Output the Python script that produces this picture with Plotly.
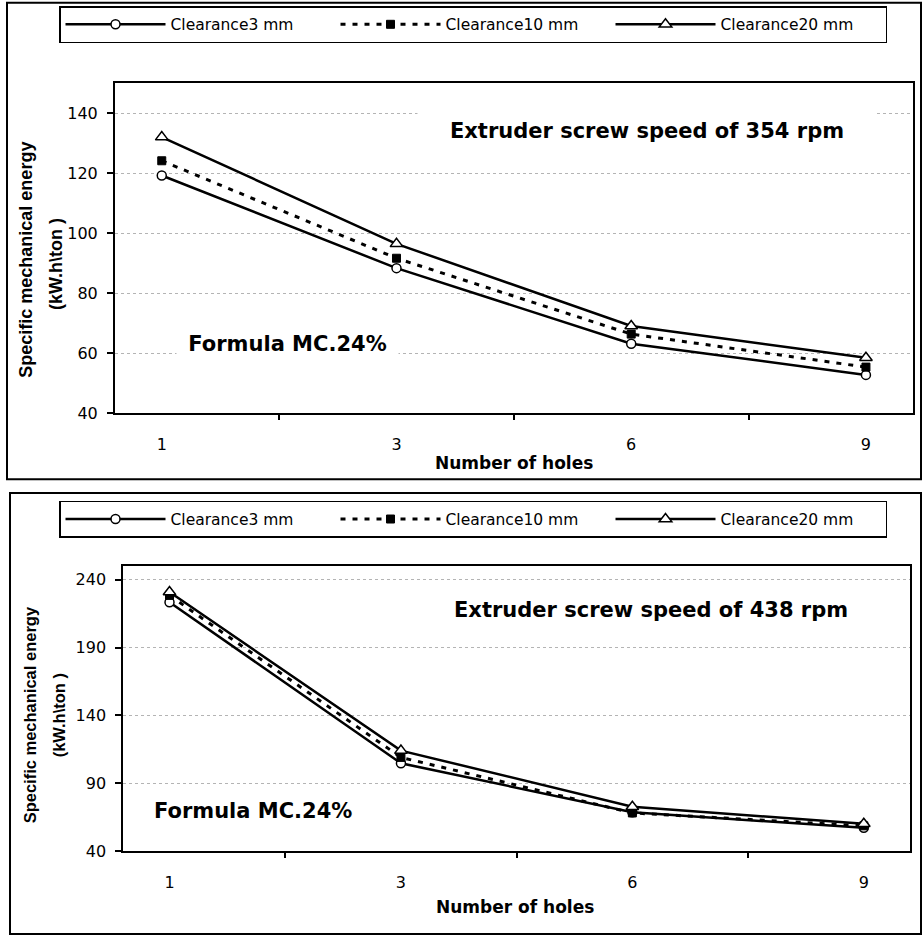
import plotly.graph_objects as go

# ---------------- data ----------------
holes = ["1", "3", "6", "9"]
series_names = ["Clearance3 mm", "Clearance10 mm", "Clearance20 mm"]

# Extruder screw speed 354 rpm
sme_354_c3 = [119.3, 88.4, 63.2, 52.8]
sme_354_c10 = [124.2, 91.7, 66.4, 55.4]
sme_354_c20 = [132.1, 96.5, 69.1, 58.5]

# Extruder screw speed 438 rpm
sme_438_c3 = [223.5, 104.7, 68.5, 57.0]
sme_438_c10 = [228.5, 109.0, 68.0, 58.5]
sme_438_c20 = [231.0, 114.0, 72.6, 60.0]

y_ticks_top = [40, 60, 80, 100, 120, 140]
y_ticks_bottom = [40, 90, 140, 190, 240]

# ---------------- layout helpers ----------------
W, H = 923, 946
def px(x):
    return x / W
def py(y):
    return 1 - y / H

FONT = "DejaVu Sans"
ARIAL = "Liberation Sans"

styles = [
    dict(line=dict(color="black", width=2.5),
         marker=dict(symbol="circle", size=9, color="white", line=dict(color="black", width=1.5))),
    dict(line=dict(color="black", width=3, dash="5px,7px"),
         marker=dict(symbol="square", size=8, color="black", line=dict(color="black", width=1))),
    dict(line=dict(color="black", width=2.5),
         marker=dict(symbol="triangle-up", size=11, color="white", line=dict(color="black", width=1.5))),
]

fig = go.Figure()

for vals, name, st in zip([sme_354_c3, sme_354_c10, sme_354_c20], series_names, styles):
    fig.add_trace(go.Scatter(x=holes, y=vals, name=name, mode="lines+markers",
                             xaxis="x", yaxis="y", legend="legend", **st))
for vals, name, st in zip([sme_438_c3, sme_438_c10, sme_438_c20], series_names, styles):
    fig.add_trace(go.Scatter(x=holes, y=vals, name=name, mode="lines+markers",
                             xaxis="x2", yaxis="y2", legend="legend2", **st))

xax_common = dict(type="category", tickson="boundaries", ticks="outside", ticklen=5,
                  tickwidth=1.5, tickcolor="black", showline=True, linewidth=2,
                  linecolor="black", mirror=True, showgrid=False, zeroline=False,
                  tickfont=dict(family=FONT, size=16, color="black"), ticklabelstandoff=16)
yax_common = dict(ticks="outside", ticklen=6, tickwidth=1.5, tickcolor="black",
                  showline=True, linewidth=2, linecolor="black", mirror=True,
                  showgrid=True, gridcolor="#b4b4b4", gridwidth=1, griddash="dot",
                  zeroline=False, tickfont=dict(family=FONT, size=16, color="black"),
                  ticklabelstandoff=6)

legend_common = dict(orientation="h", xanchor="left", yanchor="middle",
                     bordercolor="black", borderwidth=1.5, bgcolor="white",
                     font=dict(family=FONT, size=15.5, color="black"),
                     itemwidth=100, entrywidth=160, tracegroupgap=0, valign="middle")

fig.update_layout(
    width=W, height=H, margin=dict(l=0, r=0, t=0, b=0, pad=0),
    paper_bgcolor="white", plot_bgcolor="white", showlegend=True,
    xaxis=dict(domain=[px(115), px(912.7)], anchor="y", **xax_common),
    yaxis=dict(domain=[py(417.7), py(84.3)], anchor="x", range=[40, 150],
               tickvals=y_ticks_top, **yax_common),
    xaxis2=dict(domain=[px(123.3), px(910)], anchor="y2", **xax_common),
    yaxis2=dict(domain=[py(860), py(572.3)], anchor="x2", range=[40, 250],
                tickvals=y_ticks_bottom, **yax_common),
    legend=dict(x=px(59), y=py(25), **legend_common),
    legend2=dict(x=px(59), y=py(525), **legend_common),
)

# outer panel borders
fig.add_shape(type="rect", xref="paper", yref="paper", x0=px(7), x1=px(921),
              y0=py(484.3), y1=py(2.7), line=dict(color="black", width=2), layer="below")
fig.add_shape(type="rect", xref="paper", yref="paper", x0=px(10), x1=px(921),
              y0=py(944), y1=py(498.3), line=dict(color="black", width=2), layer="below")

def ann(text, x, y, size, family=FONT, angle=0, bg=None, w=None, h=None):
    d = dict(text=text, x=px(x), y=py(y), xref="paper", yref="paper",
             xanchor="center", yanchor="middle", showarrow=False, textangle=angle,
             font=dict(family=family, size=size, color="black"))
    if bg:
        d["bgcolor"] = bg
    if w:
        d["width"] = w
    if h:
        d["height"] = h
    fig.add_annotation(**d)

# in-plot labels
ann("<b>Extruder screw speed of 354 rpm</b>", 647, 132.3, 21, bg="white", w=456, h=46)
ann("<b>Formula MC.24%</b>", 287, 347.3, 21, bg="white", w=219, h=28)
ann("<b>Extruder screw speed of 438 rpm</b>", 651, 616.7, 21)
ann("<b>Formula MC.24%</b>", 253, 819.3, 21)

# axis titles
ann("<b>Number of holes</b>", 514, 468.3, 17)
ann("<b>Number of holes</b>", 514.5, 916.7, 17)
ann("<b>Specific mechanical energy</b>", 26.5, 263, 18, family=ARIAL, angle=-90)
ann(r"<b>(kW.h\ton )</b>", 56, 266.7, 18, family=ARIAL, angle=-90)
ann("<b>Specific mechanical energy</b>", 30, 723, 16.5, family=ARIAL, angle=-90)
ann(r"<b>(kW.h\ton )</b>", 59, 723, 16.5, family=ARIAL, angle=-90)

fig.write_html("out.html", config={"displayModeBar": False},
               post_script="document.body.style.margin='0';document.body.style.padding='0';")
